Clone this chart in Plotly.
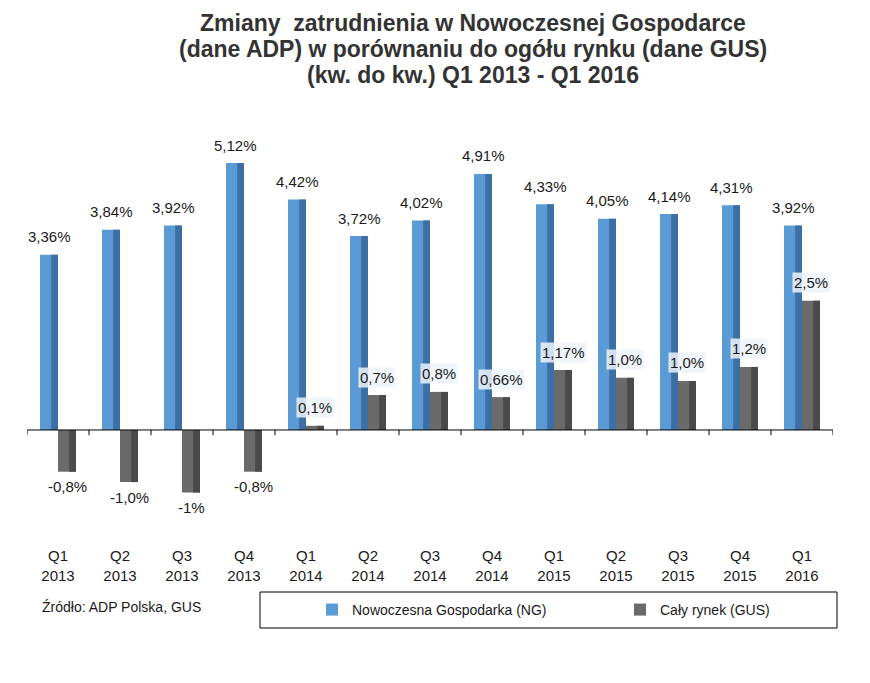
import plotly.graph_objects as go

# Data
categories = ["Q1<br>2013", "Q2<br>2013", "Q3<br>2013", "Q4<br>2013",
              "Q1<br>2014", "Q2<br>2014", "Q3<br>2014", "Q4<br>2014",
              "Q1<br>2015", "Q2<br>2015", "Q3<br>2015", "Q4<br>2015",
              "Q1<br>2016"]
ng_values = [3.36, 3.84, 3.92, 5.12, 4.42, 3.72, 4.02, 4.91, 4.33, 4.05, 4.14, 4.31, 3.92]
ng_labels = ["3,36%", "3,84%", "3,92%", "5,12%", "4,42%", "3,72%", "4,02%",
             "4,91%", "4,33%", "4,05%", "4,14%", "4,31%", "3,92%"]
gus_values = [-0.8, -1.0, -1.2, -0.8, 0.08, 0.67, 0.73, 0.63, 1.15, 1.0, 0.94, 1.21, 2.48]
gus_labels = ["-0,8%", "-1,0%", "-1%", "-0,8%", "0,1%", "0,7%", "0,8%",
              "0,66%", "1,17%", "1,0%", "1,0%", "1,2%", "2,5%"]
title_lines = ["Zmiany  zatrudnienia w Nowoczesnej Gospodarce",
               "(dane ADP) w porównaniu do ogółu rynku (dane GUS)",
               "(kw. do kw.) Q1 2013 - Q1 2016"]

W, H = 870, 683
L, R, T, B = 27, 37, 138, 143
Y_MIN, Y_MAX = -2.11, 5.6
BAR_W = 0.29

BLUE = "#5b9bd5"
BLUE_DARK = "#3c6fa4"
GRAY = "#6a6a6a"
GRAY_DARK = "#4a4a4a"
FONT = "Liberation Sans, Arial, sans-serif"


def px_x(px):
    return (px - L) / (W - L - R)


def px_y(py):
    return (H - B - py) / (H - T - B)


fig = go.Figure()

# main bars
fig.add_trace(go.Bar(x=categories, y=ng_values, name="Nowoczesna Gospodarka (NG)",
                     marker=dict(color=BLUE, line=dict(width=0)),
                     offset=-BAR_W, width=BAR_W))
fig.add_trace(go.Bar(x=categories, y=gus_values, name="Cały rynek (GUS)",
                     marker=dict(color=GRAY, line=dict(width=0)),
                     offset=0, width=BAR_W))
# darker right side to mimic the bevel
fig.add_trace(go.Bar(x=categories, y=ng_values, showlegend=False, hoverinfo="skip",
                     marker=dict(color=BLUE_DARK, line=dict(width=0)),
                     offset=-BAR_W * 0.38, width=BAR_W * 0.38))
fig.add_trace(go.Bar(x=categories, y=gus_values, showlegend=False, hoverinfo="skip",
                     marker=dict(color=GRAY_DARK, line=dict(width=0)),
                     offset=BAR_W * 0.62, width=BAR_W * 0.38))

annotations = []
for cat, v, lab in zip(categories, ng_values, ng_labels):
    annotations.append(dict(x=cat, y=v, text=lab, showarrow=False, xref="x", yref="y",
                            xshift=-9, yshift=18, font=dict(size=15, color="#1a1a1a", family=FONT)))
for cat, v, lab in zip(categories, gus_values, gus_labels):
    if v >= 0:
        annotations.append(dict(x=cat, y=v, text=lab, showarrow=False, xref="x", yref="y",
                                xshift=9, yshift=18, bgcolor="rgba(236,243,250,0.85)",
                                borderpad=1,
                                font=dict(size=15, color="#1a1a1a", family=FONT)))
    else:
        annotations.append(dict(x=cat, y=v, text=lab, showarrow=False, xref="x", yref="y",
                                xshift=9, yshift=-15, font=dict(size=15, color="#1a1a1a", family=FONT)))

# title, one annotation per line to keep the tight line spacing
for line, ypx in zip(title_lines, [23, 49, 75]):
    annotations.append(dict(x=px_x(473), y=px_y(ypx), xref="paper", yref="paper",
                            xanchor="center", yanchor="middle", text="<b>" + line + "</b>",
                            showarrow=False,
                            font=dict(size=23, color="#333333", family=FONT)))

annotations.append(dict(x=px_x(40), y=px_y(607), xref="paper", yref="paper",
                        xanchor="left", yanchor="middle",
                        text="Źródło: ADP Polska, GUS", showarrow=False,
                        font=dict(size=14, color="#1a1a1a", family=FONT)))

shapes = [
    # zero axis line
    dict(type="line", xref="x", yref="y", x0=-0.5, x1=12.5, y0=0, y1=0,
         line=dict(color="black", width=1)),
    # legend box
    dict(type="rect", xref="paper", yref="paper", x0=px_x(260), x1=px_x(837),
         y0=px_y(592), y1=px_y(628), line=dict(color="black", width=1)),
]
for i in range(len(categories) + 1):
    shapes.append(dict(type="line", xref="x", yref="y", x0=i - 0.5, x1=i - 0.5,
                       y0=0, y1=-0.1, line=dict(color="black", width=1)))

fig.update_layout(
    width=W, height=H,
    margin=dict(l=L, r=R, t=T, b=B, autoexpand=False),
    paper_bgcolor="white", plot_bgcolor="white",
    barmode="overlay",
    xaxis=dict(range=[-0.5, 12.5], showgrid=False, showline=False, ticks="",
               ticklabelstandoff=5,
               tickfont=dict(size=15, color="#1a1a1a", family=FONT)),
    yaxis=dict(range=[Y_MIN, Y_MAX], visible=False),
    legend=dict(orientation="h", x=px_x(312), y=px_y(610), xanchor="left", yanchor="middle",
                entrywidth=263, entrywidthmode="pixels", bgcolor="rgba(0,0,0,0)",
                font=dict(size=14, color="#1a1a1a", family=FONT)),
    annotations=annotations,
    shapes=shapes,
    showlegend=True,
)

# drop the browser's default page margin so the figure sits at (0, 0)
fig.write_html("out.html", config={"displayModeBar": False},
               post_script="document.body.style.margin = '0';")
